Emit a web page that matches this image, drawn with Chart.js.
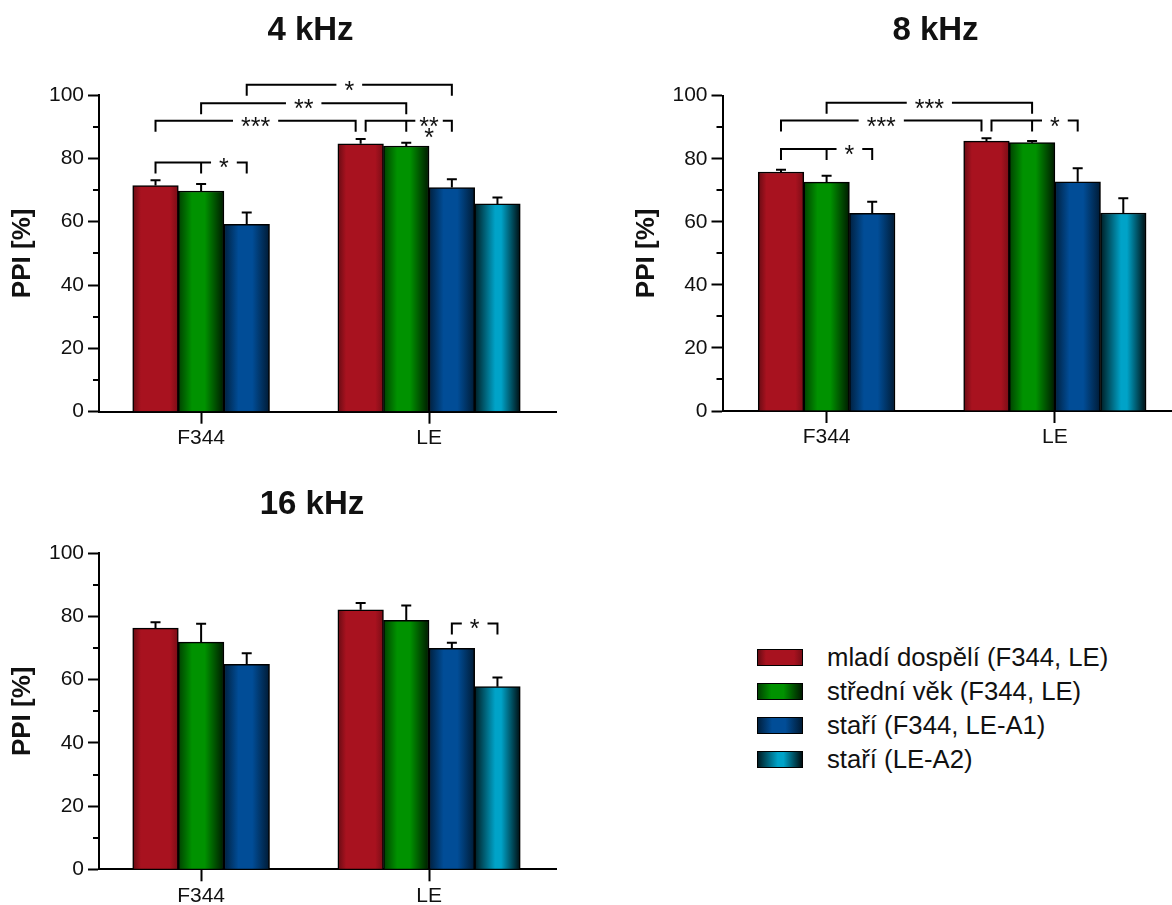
<!DOCTYPE html>
<html>
<head>
<meta charset="utf-8">
<script src="https://cdn.jsdelivr.net/npm/chart.js@4.4.1/dist/chart.umd.min.js"></script>
<style>
  html, body { margin: 0; padding: 0; background: #fff; }
  body { width: 1172px; height: 905px; position: relative; overflow: hidden;
         font-family: "Liberation Sans", Arial, Helvetica, sans-serif; }
  canvas { position: absolute; display: block; }
  .lg-row { position: absolute; left: 757px; height: 34px; display: flex; align-items: center;
            font-size: 25.7px; color: #111; white-space: nowrap; }
  .lg-sw { width: 46px; height: 17px; box-sizing: border-box; border: 1.5px solid #000; margin-right: 24px; }
</style>
</head>
<body>
<canvas id="c4" width="580" height="460" style="left:0;top:0"></canvas>
<canvas id="c8" width="572" height="460" style="left:600px;top:0"></canvas>
<canvas id="c16" width="580" height="445" style="left:0;top:460px"></canvas>
<div id="legend"></div>
<script>
// ---------- data ----------
const categories = ['F344', 'LE'];
const seriesNames = ['mladí dospělí (F344, LE)', 'střední věk (F344, LE)', 'staří (F344, LE-A1)', 'staří (LE-A2)'];
const seriesColors = ['#a8121f', '#009200', '#014d97', '#00a3c8'];
const yTicks = [0, 20, 40, 60, 80, 100];
const yMinorTicks = [10, 30, 50, 70, 90];

// 4 kHz
const young4 = [71.4, 84.6];
const middle4 = [69.7, 83.9];
const oldA1_4 = [59.2, 70.8];
const oldA2_4 = [null, 65.6];
const young4Err = [1.7, 1.5];
const middle4Err = [2.2, 1.0];
const oldA1_4Err = [3.7, 2.6];
const oldA2_4Err = [null, 2.0];

// 8 kHz
const young8 = [75.8, 85.6];
const middle8 = [72.6, 85.1];
const oldA1_8 = [62.7, 72.7];
const oldA2_8 = [null, 62.8];
const young8Err = [0.7, 0.9];
const middle8Err = [2.0, 0.5];
const oldA1_8Err = [3.7, 4.3];
const oldA2_8Err = [null, 4.7];

// 16 kHz
const young16 = [76.3, 82.1];
const middle16 = [71.9, 78.8];
const oldA1_16 = [64.9, 69.9];
const oldA2_16 = [null, 57.8];
const young16Err = [1.9, 2.2];
const middle16Err = [5.8, 4.7];
const oldA1_16Err = [3.5, 1.8];
const oldA2_16Err = [null, 2.9];

// significance brackets: [series, category], y level in % units
const sig4 = [
  { from: [2, 0], to: [2, 1], y: 103.2, label: '*' },
  { from: [1, 0], to: [1, 1], y: 97.4, label: '**' },
  { from: [0, 0], to: [0, 1], y: 91.9, label: '***', toShift: -5 },
  { from: [0, 1], mid: [1, 1], to: [2, 1], y: 91.9, label: '**', sub: '*', fromShift: 5, pad: 4 },
  { from: [0, 0], mid: [1, 0], to: [2, 0], y: 78.7, label: '*' }
];
const sig8 = [
  { from: [1, 0], to: [1, 1], y: 97.8, label: '***' },
  { from: [0, 0], to: [0, 1], y: 92.1, label: '***', toShift: -5 },
  { from: [0, 1], mid: [1, 1], to: [2, 1], y: 92.1, label: '*', fromShift: 5 },
  { from: [0, 0], mid: [1, 0], to: [2, 0], y: 83.1, label: '*' }
];
const sig16 = [
  { from: [2, 1], to: [3, 1], y: 77.8, label: '*' }
];

// ---------- styling helpers ----------
const FONT = '"Liberation Sans", Arial, Helvetica, sans-serif';
const SHADES = [
  [[0, 0.62], [0.18, 1], [0.82, 1], [1, 0.72]],
  [[0, 0.45], [0.3, 1], [0.58, 1], [1, 0.18]],
  [[0, 0.42], [0.32, 1], [0.62, 1], [1, 0.35]],
  [[0, 0.18], [0.45, 1], [0.58, 1], [1, 0.08]]
];
function shade(hex, f) {
  const n = parseInt(hex.slice(1), 16);
  const r = (n >> 16) & 255, g = (n >> 8) & 255, b = n & 255;
  return `rgb(${Math.round(r * f)},${Math.round(g * f)},${Math.round(b * f)})`;
}

const cylinderPlugin = {
  id: 'cylinder',
  beforeDatasetsDraw(chart) {
    const ctx = chart.ctx;
    chart.data.datasets.forEach((ds, di) => {
      chart.getDatasetMeta(di).data.forEach(bar => {
        const { x, width } = bar.getProps(['x', 'width'], true);
        if (!isFinite(x) || !width) return;
        const g = ctx.createLinearGradient(x - width / 2, 0, x + width / 2, 0);
        SHADES[di].forEach(([p, f]) => g.addColorStop(p, shade(seriesColors[di], f)));
        bar.options = Object.assign({}, bar.options, { backgroundColor: g });
      });
    });
  }
};

const errorBarPlugin = {
  id: 'errorBars',
  afterDatasetsDraw(chart) {
    const ctx = chart.ctx, ys = chart.scales.y;
    ctx.save();
    ctx.strokeStyle = '#000'; ctx.lineWidth = 2;
    chart.data.datasets.forEach((ds, di) => {
      chart.getDatasetMeta(di).data.forEach((bar, i) => {
        const v = ds.data[i].y, e = ds.errors[i];
        if (v == null || e == null) return;
        const top = ys.getPixelForValue(v + e);
        ctx.beginPath();
        ctx.moveTo(bar.x, bar.y); ctx.lineTo(bar.x, top);
        ctx.moveTo(bar.x - 5, top); ctx.lineTo(bar.x + 5, top);
        ctx.stroke();
      });
    });
    ctx.restore();
  }
};

const bracketPlugin = {
  id: 'brackets',
  afterDraw(chart, args, opts) {
    const items = opts.items || [];
    const ctx = chart.ctx, ys = chart.scales.y;
    const cx = ref => chart.getDatasetMeta(ref[0]).data[ref[1]].x;
    ctx.save();
    ctx.strokeStyle = '#000'; ctx.fillStyle = '#111'; ctx.lineWidth = 2;
    ctx.lineJoin = 'miter'; ctx.lineCap = 'butt';
    ctx.font = `25px ${FONT}`; ctx.textAlign = 'center'; ctx.textBaseline = 'alphabetic';
    const drop = 11;
    items.forEach(b => {
      const x1 = cx(b.from) + (b.fromShift || 0);
      const x2 = cx(b.to) + (b.toShift || 0);
      const xm = b.mid ? cx(b.mid) : null;
      const yl = ys.getPixelForValue(b.y);
      const lx = xm != null ? (xm + x2) / 2 : (x1 + x2) / 2;
      const tw = ctx.measureText(b.label).width;
      const pad = b.pad != null ? b.pad : 8;
      const g1 = lx - tw / 2 - pad, g2 = lx + tw / 2 + pad;
      ctx.beginPath();
      ctx.moveTo(x1, yl + drop); ctx.lineTo(x1, yl); ctx.lineTo(g1, yl);
      ctx.moveTo(g2, yl); ctx.lineTo(x2, yl); ctx.lineTo(x2, yl + drop);
      if (xm != null) { ctx.moveTo(xm, yl); ctx.lineTo(xm, yl + drop); }
      ctx.stroke();
      ctx.fillText(b.label, lx, yl + 14);
      if (b.sub) ctx.fillText(b.sub, lx, yl + 25);
    });
    ctx.restore();
  }
};

const minorTickPlugin = {
  id: 'minorTicks',
  afterDraw(chart) {
    const ctx = chart.ctx, ys = chart.scales.y, x0 = chart.chartArea.left;
    ctx.save();
    ctx.strokeStyle = '#000'; ctx.lineWidth = 2;
    ctx.beginPath();
    yMinorTicks.forEach(v => {
      const y = Math.round(ys.getPixelForValue(v));
      ctx.moveTo(x0 - 6, y); ctx.lineTo(x0, y);
    });
    ctx.stroke();
    ctx.restore();
  }
};

const panelTitlePlugin = {
  id: 'panelTitle',
  afterDraw(chart, args, opts) {
    const ctx = chart.ctx;
    ctx.save();
    ctx.font = `bold 33px ${FONT}`;
    ctx.fillStyle = '#111'; ctx.textAlign = 'center'; ctx.textBaseline = 'alphabetic';
    ctx.fillText(opts.text, opts.x, opts.y);
    ctx.restore();
  }
};

function makeChart(id, cfg) {
  const datasets = cfg.series.map((vals, k) => ({
    label: seriesNames[k],
    data: vals.map((v, i) => ({ x: i, y: v })),
    errors: cfg.errors[k],
    backgroundColor: seriesColors[k],
    borderColor: '#000',
    borderWidth: 1.5,
    borderSkipped: 'start',
    barThickness: cfg.barW,
    skipNull: true,
    grouped: true
  }));
  return new Chart(document.getElementById(id), {
    type: 'bar',
    data: { datasets },
    options: {
      responsive: false,
      animation: false,
      events: [],
      layout: { padding: cfg.padding },
      plugins: {
        legend: { display: false },
        tooltip: { enabled: false },
        title: { display: false },
        panelTitle: cfg.title,
        brackets: { items: cfg.brackets }
      },
      scales: {
        x: {
          type: 'linear', min: cfg.xMin, max: cfg.xMax, offset: false,
          grid: { display: true, drawOnChartArea: false, offset: false, tickLength: 12, tickWidth: 2, tickColor: '#000' },
          border: { display: true, color: '#000', width: 2 },
          afterBuildTicks: s => { s.ticks = categories.map((c, i) => ({ value: i })); },
          ticks: { callback: v => categories[v], autoSkip: false, maxRotation: 0,
                   font: { size: 21, family: FONT }, color: '#111', padding: 2 },
          afterFit: s => { s.height = cfg.xAxisH; }
        },
        y: {
          min: 0, max: 100,
          afterBuildTicks: s => { s.ticks = yTicks.map(v => ({ value: v })); },
          grid: { display: true, drawOnChartArea: false, tickLength: 11, tickWidth: 2, tickColor: '#000' },
          border: { display: true, color: '#000', width: 2 },
          ticks: { font: { size: 21, family: FONT }, color: '#111', padding: 4 },
          title: { display: true, text: 'PPI [%]', color: '#111',
                   font: { size: 26, weight: 'bold', family: FONT },
                   padding: { top: cfg.yTitlePad, bottom: 0 } },
          afterFit: s => { s.width = cfg.yAxisW; }
        }
      }
    },
    plugins: [cylinderPlugin, errorBarPlugin, bracketPlugin, minorTickPlugin, panelTitlePlugin]
  });
}

makeChart('c4', {
  series: [young4, middle4, oldA1_4, oldA2_4],
  errors: [young4Err, middle4Err, oldA1_4Err, oldA2_4Err],
  brackets: sig4,
  title: { text: '4 kHz', x: 310.5, y: 40 },
  padding: { left: 0, right: 23.3, top: 95, bottom: 0 },
  yAxisW: 99, xAxisH: 48.3, yTitlePad: 7,
  xMin: -0.448, xMax: 1.56, barW: 45.6
});

makeChart('c8', {
  series: [young8, middle8, oldA1_8, oldA2_8],
  errors: [young8Err, middle8Err, oldA1_8Err, oldA2_8Err],
  brackets: sig8,
  title: { text: '8 kHz', x: 335.5, y: 40 },
  padding: { left: 0, right: 0, top: 95.7, bottom: 0 },
  yAxisW: 122.5, xAxisH: 49, yTitlePad: 31,
  xMin: -0.456, xMax: 1.513, barW: 45.6
});

makeChart('c16', {
  series: [young16, middle16, oldA1_16, oldA2_16],
  errors: [young16Err, middle16Err, oldA1_16Err, oldA2_16Err],
  brackets: sig16,
  title: { text: '16 kHz', x: 312, y: 54 },
  padding: { left: 0, right: 23.3, top: 93.3, bottom: 0 },
  yAxisW: 99, xAxisH: 35.7, yTitlePad: 7,
  xMin: -0.448, xMax: 1.56, barW: 45.6
});

// ---------- legend ----------
const legend = document.getElementById('legend');
seriesNames.forEach((name, k) => {
  const row = document.createElement('div');
  row.className = 'lg-row';
  row.style.top = (640 + k * 34) + 'px';
  const sw = document.createElement('div');
  sw.className = 'lg-sw';
  sw.style.background = 'linear-gradient(to right,' +
    SHADES[k].map(([p, f]) => `${shade(seriesColors[k], f)} ${p * 100}%`).join(',') + ')';
  const tx = document.createElement('span');
  tx.textContent = name;
  row.appendChild(sw); row.appendChild(tx);
  legend.appendChild(row);
});
</script>
</body>
</html>
